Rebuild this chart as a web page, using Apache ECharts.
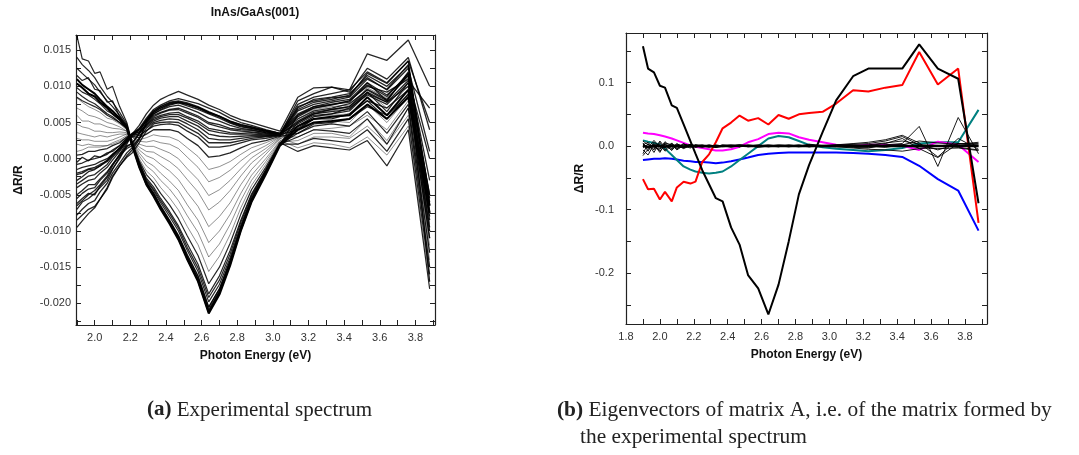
<!DOCTYPE html>
<html><head><meta charset="utf-8">
<script src="https://cdn.jsdelivr.net/npm/echarts@6/dist/echarts.min.js"></script>
<style>html,body{margin:0;padding:0;background:#fff;}#chart{width:1079px;height:455px;}</style>
</head><body><div id="chart"></div>
<script>
// Photon energy grid (eV)
const photonEnergy = [1.90,1.93,1.965,2.00,2.03,2.07,2.10,2.14,2.18,2.21,2.25,2.29,2.33,2.37,2.42,2.47,2.52,2.58,2.64,2.70,2.76,2.82,2.88,2.96,3.04,3.14,3.23,3.33,3.43,3.53,3.64,3.76,3.88];

// (a) experimental spectra, dR/R
const spec01 = [-0.0040,-0.0035,-0.0030,-0.0028,-0.0020,-0.0012,-0.0002,0.0010,0.0024,0.0034,0.0042,0.0056,0.0068,0.0074,0.0080,0.0083,0.0080,0.0076,0.0070,0.0064,0.0056,0.0050,0.0046,0.0040,0.0035,0.0062,0.0072,0.0078,0.0082,0.0105,0.0088,0.0115,-0.0050];
const spec02 = [-0.0062,-0.0055,-0.0048,-0.0050,-0.0038,-0.0026,-0.0014,0.0000,0.0018,0.0020,0.0036,0.0054,0.0066,0.0072,0.0078,0.0080,0.0077,0.0072,0.0065,0.0059,0.0052,0.0047,0.0044,0.0039,0.0035,0.0055,0.0066,0.0070,0.0076,0.0095,0.0080,0.0120,-0.0065];
const spec03 = [-0.0022,-0.0020,-0.0015,-0.0014,-0.0010,-0.0004,0.0004,0.0014,0.0026,0.0034,0.0040,0.0052,0.0062,0.0067,0.0072,0.0074,0.0070,0.0064,0.0056,0.0052,0.0046,0.0042,0.0040,0.0036,0.0034,0.0070,0.0082,0.0085,0.0090,0.0112,0.0095,0.0125,0.0010];
const spec04 = [-0.0078,-0.0070,-0.0062,-0.0058,-0.0046,-0.0034,-0.0020,-0.0006,0.0008,0.0015,0.0028,0.0048,0.0058,0.0063,0.0067,0.0068,0.0063,0.0057,0.0048,0.0044,0.0040,0.0038,0.0037,0.0035,0.0034,0.0048,0.0060,0.0062,0.0070,0.0088,0.0075,0.0105,-0.0080];
const spec05 = [-0.0008,-0.0006,-0.0002,0.0000,0.0002,0.0006,0.0012,0.0018,0.0028,0.0034,0.0037,0.0046,0.0054,0.0058,0.0061,0.0061,0.0056,0.0049,0.0039,0.0036,0.0034,0.0034,0.0034,0.0033,0.0033,0.0080,0.0090,0.0099,0.0092,0.0125,0.0110,0.0140,0.0040];
const spec06 = [-0.0050,-0.0044,-0.0036,-0.0036,-0.0028,-0.0018,-0.0008,0.0004,0.0014,0.0018,0.0028,0.0042,0.0050,0.0053,0.0055,0.0054,0.0048,0.0040,0.0028,0.0026,0.0026,0.0028,0.0030,0.0031,0.0033,0.0040,0.0055,0.0055,0.0062,0.0080,0.0070,0.0095,-0.0100];
const spec07 = [0.0005,0.0006,0.0010,0.0010,0.0012,0.0014,0.0018,0.0022,0.0030,0.0034,0.0032,0.0039,0.0045,0.0047,0.0048,0.0046,0.0038,0.0030,0.0016,0.0016,0.0018,0.0022,0.0026,0.0028,0.0032,0.0066,0.0075,0.0080,0.0085,0.0110,0.0096,0.0130,-0.0055];
const spec08 = [-0.0030,-0.0025,-0.0018,-0.0015,-0.0010,-0.0002,0.0006,0.0014,0.0026,0.0031,0.0029,0.0034,0.0040,0.0040,0.0040,0.0037,0.0028,0.0018,0.0002,0.0004,0.0008,0.0015,0.0021,0.0025,0.0031,0.0035,0.0048,0.0050,0.0055,0.0072,0.0060,0.0088,-0.0110];
const spec09 = [0.0010,0.0012,0.0016,0.0016,0.0016,0.0018,0.0020,0.0024,0.0030,0.0030,0.0026,0.0029,0.0033,0.0031,0.0030,0.0025,0.0015,0.0003,-0.0015,-0.0011,-0.0004,0.0006,0.0015,0.0022,0.0030,0.0058,0.0068,0.0072,0.0074,0.0098,0.0084,0.0112,-0.0070];
const spec10 = [0.0020,0.0018,0.0020,0.0018,0.0018,0.0018,0.0022,0.0026,0.0032,0.0030,0.0024,0.0023,0.0025,0.0022,0.0020,0.0014,0.0002,-0.0012,-0.0032,-0.0026,-0.0016,-0.0003,0.0008,0.0018,0.0030,0.0030,0.0040,0.0042,0.0045,0.0060,0.0040,0.0080,-0.0130];
const spec11 = [0.0028,0.0026,0.0026,0.0024,0.0024,0.0024,0.0026,0.0030,0.0034,0.0030,0.0020,0.0017,0.0017,0.0013,0.0008,0.0000,-0.0014,-0.0029,-0.0051,-0.0043,-0.0030,-0.0014,0.0001,0.0014,0.0029,0.0052,0.0062,0.0066,0.0070,0.0092,0.0070,0.0100,-0.0090];
const spec12 = [0.0036,0.0034,0.0032,0.0030,0.0032,0.0030,0.0032,0.0034,0.0034,0.0027,0.0016,0.0010,0.0009,0.0003,-0.0004,-0.0014,-0.0029,-0.0046,-0.0071,-0.0060,-0.0044,-0.0024,-0.0006,0.0010,0.0028,0.0020,0.0030,0.0030,0.0028,0.0045,0.0020,0.0060,-0.0150];
const spec13 = [0.0048,0.0044,0.0042,0.0038,0.0038,0.0036,0.0036,0.0037,0.0036,0.0026,0.0012,0.0004,0.0000,-0.0008,-0.0017,-0.0029,-0.0047,-0.0066,-0.0094,-0.0080,-0.0061,-0.0036,-0.0015,0.0006,0.0027,0.0045,0.0058,0.0060,0.0062,0.0085,0.0060,0.0095,-0.0100];
const spec14 = [0.0060,0.0052,0.0052,0.0048,0.0048,0.0044,0.0042,0.0041,0.0038,0.0024,0.0008,-0.0004,-0.0010,-0.0020,-0.0031,-0.0044,-0.0064,-0.0085,-0.0116,-0.0100,-0.0077,-0.0048,-0.0023,0.0000,0.0025,0.0015,0.0022,0.0020,0.0015,0.0030,0.0005,0.0045,-0.0170];
const spec15 = [0.0070,0.0066,0.0060,0.0058,0.0055,0.0050,0.0048,0.0044,0.0038,0.0024,0.0004,-0.0010,-0.0018,-0.0030,-0.0042,-0.0058,-0.0079,-0.0102,-0.0136,-0.0118,-0.0091,-0.0058,-0.0030,-0.0004,0.0024,0.0038,0.0050,0.0052,0.0050,0.0075,0.0050,0.0085,-0.0120];
const spec16 = [0.0084,0.0078,0.0072,0.0068,0.0064,0.0056,0.0054,0.0048,0.0040,0.0023,0.0000,-0.0017,-0.0026,-0.0040,-0.0054,-0.0071,-0.0094,-0.0119,-0.0156,-0.0135,-0.0105,-0.0068,-0.0037,-0.0008,0.0023,0.0025,0.0035,0.0035,0.0030,0.0055,0.0025,0.0070,-0.0140];
const spec17 = [0.0092,0.0086,0.0080,0.0076,0.0070,0.0062,0.0058,0.0050,0.0042,0.0022,-0.0003,-0.0022,-0.0033,-0.0048,-0.0064,-0.0083,-0.0107,-0.0134,-0.0173,-0.0150,-0.0117,-0.0077,-0.0043,-0.0012,0.0022,0.0010,0.0018,0.0015,0.0012,0.0025,-0.0010,0.0040,-0.0180];
const spec18 = [0.0125,0.0118,0.0110,0.0102,0.0092,0.0080,0.0072,0.0060,0.0046,0.0021,-0.0005,-0.0027,-0.0039,-0.0055,-0.0073,-0.0093,-0.0118,-0.0146,-0.0187,-0.0162,-0.0127,-0.0085,-0.0049,-0.0015,0.0021,0.0042,0.0055,0.0058,0.0060,0.0080,0.0055,0.0090,-0.0110];
const spec19 = [0.0098,0.0092,0.0088,0.0082,0.0076,0.0066,0.0062,0.0054,0.0044,0.0020,-0.0007,-0.0031,-0.0044,-0.0061,-0.0080,-0.0100,-0.0127,-0.0156,-0.0198,-0.0174,-0.0137,-0.0092,-0.0053,-0.0017,0.0020,0.0020,0.0028,0.0025,0.0022,0.0040,0.0010,0.0055,-0.0160];
const spec20 = [0.0140,0.0130,0.0122,0.0112,0.0100,0.0086,0.0078,0.0064,0.0048,0.0021,-0.0009,-0.0034,-0.0048,-0.0066,-0.0086,-0.0107,-0.0134,-0.0163,-0.0206,-0.0180,-0.0141,-0.0096,-0.0056,-0.0019,0.0020,0.0035,0.0045,0.0048,0.0045,0.0065,0.0035,0.0075,-0.0130];
const spec21 = [0.0110,0.0102,0.0096,0.0090,0.0082,0.0072,0.0066,0.0056,0.0044,0.0020,-0.0010,-0.0035,-0.0050,-0.0068,-0.0088,-0.0110,-0.0138,-0.0168,-0.0212,-0.0185,-0.0145,-0.0098,-0.0058,-0.0020,0.0020,0.0045,0.0055,0.0058,0.0060,0.0085,0.0060,0.0095,-0.0065];
const spec22 = [0.0104,0.0098,0.0090,0.0086,0.0078,0.0070,0.0062,0.0054,0.0042,0.0018,-0.0012,-0.0036,-0.0052,-0.0070,-0.0090,-0.0112,-0.0140,-0.0170,-0.0214,-0.0188,-0.0148,-0.0100,-0.0060,-0.0022,0.0018,0.0040,0.0050,0.0052,0.0055,0.0075,0.0055,0.0085,-0.0075];
const spec23 = [0.0170,0.0138,0.0135,0.0118,0.0120,0.0096,0.0100,0.0072,0.0050,0.0022,-0.0008,-0.0033,-0.0049,-0.0067,-0.0087,-0.0108,-0.0136,-0.0166,-0.0209,-0.0183,-0.0143,-0.0097,-0.0057,-0.0019,0.0020,0.0030,0.0040,0.0038,0.0035,0.0055,0.0020,0.0070,-0.0150];
const spec24 = [-0.0070,-0.0060,-0.0055,-0.0048,-0.0040,-0.0030,-0.0015,0.0002,0.0020,0.0034,0.0046,0.0062,0.0074,0.0082,0.0088,0.0093,0.0088,0.0082,0.0074,0.0068,0.0060,0.0054,0.0050,0.0044,0.0038,0.0085,0.0098,0.0099,0.0095,0.0145,0.0136,0.0164,0.0100];
const spec25 = [-0.0055,-0.0048,-0.0042,-0.0040,-0.0030,-0.0020,-0.0008,0.0006,0.0022,0.0032,0.0040,0.0052,0.0064,0.0070,0.0076,0.0078,0.0075,0.0071,0.0064,0.0058,0.0050,0.0045,0.0042,0.0038,0.0034,0.0058,0.0070,0.0075,0.0080,0.0100,0.0092,0.0110,0.0000];
const spec26 = [-0.0085,-0.0078,-0.0070,-0.0066,-0.0056,-0.0042,-0.0026,-0.0010,0.0004,0.0012,0.0026,0.0050,0.0062,0.0068,0.0074,0.0077,0.0073,0.0068,0.0062,0.0056,0.0049,0.0044,0.0042,0.0037,0.0034,0.0068,0.0078,0.0082,0.0088,0.0115,0.0100,0.0128,-0.0060];
const spec27 = [-0.0015,-0.0012,-0.0010,-0.0008,-0.0004,0.0000,0.0006,0.0014,0.0025,0.0033,0.0040,0.0053,0.0064,0.0070,0.0075,0.0078,0.0075,0.0070,0.0063,0.0058,0.0051,0.0046,0.0043,0.0038,0.0034,0.0050,0.0062,0.0068,0.0072,0.0092,0.0078,0.0108,0.0070];
const spec28 = [-0.0035,-0.0030,-0.0024,-0.0022,-0.0016,-0.0008,0.0002,0.0012,0.0024,0.0031,0.0035,0.0044,0.0052,0.0056,0.0058,0.0058,0.0052,0.0045,0.0034,0.0031,0.0030,0.0031,0.0032,0.0032,0.0033,0.0072,0.0080,0.0084,0.0086,0.0118,0.0104,0.0135,-0.0075];
const spec29 = [-0.0065,-0.0058,-0.0050,-0.0044,-0.0036,-0.0024,-0.0010,0.0006,0.0016,0.0022,0.0034,0.0050,0.0060,0.0064,0.0068,0.0070,0.0065,0.0059,0.0050,0.0047,0.0042,0.0040,0.0039,0.0036,0.0034,0.0060,0.0070,0.0074,0.0080,0.0102,0.0086,0.0118,-0.0030];
const spec30 = [-0.0020,-0.0018,-0.0014,-0.0012,-0.0008,-0.0003,0.0005,0.0015,0.0026,0.0033,0.0037,0.0047,0.0056,0.0060,0.0063,0.0064,0.0058,0.0052,0.0042,0.0039,0.0036,0.0035,0.0036,0.0034,0.0033,0.0052,0.0064,0.0068,0.0072,0.0096,0.0082,0.0115,-0.0085];
const spec31 = [-0.0095,-0.0086,-0.0076,-0.0068,-0.0056,-0.0040,-0.0024,-0.0010,0.0002,0.0008,0.0022,0.0038,0.0048,0.0050,0.0051,0.0050,0.0043,0.0035,0.0022,0.0022,0.0022,0.0025,0.0028,0.0030,0.0032,0.0045,0.0058,0.0062,0.0066,0.0090,0.0078,0.0100,-0.0095];
const spec32 = [-0.0005,0.0002,-0.0003,0.0004,0.0002,0.0008,0.0010,0.0018,0.0028,0.0035,0.0041,0.0054,0.0066,0.0072,0.0077,0.0079,0.0076,0.0071,0.0064,0.0059,0.0052,0.0047,0.0044,0.0039,0.0035,0.0075,0.0085,0.0090,0.0095,0.0120,0.0105,0.0135,0.0050];
const spec33 = [0.0115,0.0108,0.0112,0.0096,0.0094,0.0078,0.0080,0.0058,0.0045,0.0020,-0.0006,-0.0029,-0.0042,-0.0058,-0.0076,-0.0096,-0.0123,-0.0151,-0.0192,-0.0168,-0.0132,-0.0088,-0.0051,-0.0016,0.0020,0.0050,0.0062,0.0065,0.0068,0.0092,0.0065,0.0105,-0.0050];
const spec34 = [0.0085,0.0080,0.0076,0.0072,0.0068,0.0060,0.0056,0.0050,0.0042,0.0019,-0.0009,-0.0033,-0.0047,-0.0065,-0.0085,-0.0106,-0.0133,-0.0162,-0.0205,-0.0180,-0.0141,-0.0095,-0.0056,-0.0019,0.0019,0.0060,0.0072,0.0075,0.0078,0.0105,0.0080,0.0118,-0.0170];

// (b) eigenvectors
const evBlack   = [0.157,0.122,0.116,0.095,0.092,0.064,0.060,0.034,0.008,-0.012,-0.038,-0.060,-0.082,-0.087,-0.128,-0.155,-0.203,-0.224,-0.265,-0.218,-0.150,-0.076,-0.030,0.022,0.072,0.110,0.122,0.122,0.122,0.160,0.122,0.106,-0.090];
const evRed     = [-0.052,-0.068,-0.067,-0.084,-0.072,-0.087,-0.065,-0.056,-0.059,-0.056,-0.025,-0.013,0.006,0.028,0.037,0.048,0.040,0.044,0.034,0.049,0.043,0.050,0.052,0.054,0.067,0.088,0.086,0.092,0.096,0.148,0.097,0.122,-0.121];
const evMagenta = [0.021,0.020,0.019,0.017,0.015,0.012,0.009,0.005,0.001,-0.001,-0.003,-0.005,-0.007,-0.007,-0.005,-0.001,0.006,0.011,0.019,0.021,0.020,0.014,0.010,0.006,0.002,0.000,0.002,0.002,0.001,-0.006,0.007,0.002,-0.025];
const evTeal    = [0.009,0.007,0.005,0.002,-0.004,-0.014,-0.022,-0.032,-0.037,-0.040,-0.042,-0.043,-0.042,-0.040,-0.032,-0.022,-0.012,0.000,0.012,0.016,0.014,0.008,0.002,-0.002,-0.004,-0.006,-0.008,-0.006,-0.003,0.004,0.006,0.006,0.057];
const evBlue    = [-0.022,-0.021,-0.020,-0.020,-0.019,-0.020,-0.021,-0.023,-0.024,-0.025,-0.025,-0.026,-0.027,-0.026,-0.024,-0.021,-0.018,-0.014,-0.012,-0.011,-0.010,-0.010,-0.010,-0.010,-0.010,-0.011,-0.012,-0.014,-0.017,-0.031,-0.052,-0.070,-0.133];
const evNoise1 = [0.005,-0.008,0.006,-0.004,0.007,-0.003,0.004,-0.002,0.003,0.000,0.002,-0.001,0.002,0.000,0.001,-0.001,0.002,0.000,0.001,-0.001,0.002,0.000,0.003,0.001,0.002,0.004,0.006,0.010,0.017,0.005,-0.017,0.012,-0.005];
const evNoise2 = [-0.012,0.004,-0.010,0.006,-0.006,0.005,-0.004,0.003,-0.002,0.002,-0.001,0.002,0.000,0.001,-0.002,0.001,0.000,0.002,-0.001,0.001,0.000,0.002,-0.001,0.001,0.000,-0.002,-0.003,0.002,0.004,0.031,-0.032,0.045,-0.012];
const evNoise3 = [0.008,0.002,-0.006,0.008,-0.002,0.004,-0.005,0.003,0.000,-0.002,0.001,0.000,-0.001,0.002,0.000,0.001,-0.001,0.000,0.002,0.000,-0.001,0.001,0.000,-0.001,0.002,0.000,0.002,0.005,0.008,0.003,-0.006,0.004,0.004];
const evNoise4 = [-0.006,-0.014,0.003,-0.008,0.002,-0.006,0.002,-0.004,0.001,0.000,-0.002,0.001,-0.001,0.000,0.001,-0.001,0.001,-0.002,0.000,0.001,-0.001,0.000,0.001,0.000,-0.001,-0.003,-0.005,-0.006,-0.008,-0.004,0.000,0.004,0.000];
const evNoise5 = [0.002,0.006,-0.004,0.002,-0.008,0.001,-0.002,0.004,-0.001,0.001,0.000,-0.002,0.001,0.000,0.000,0.002,-0.001,0.001,0.000,-0.001,0.001,0.000,-0.001,0.001,0.001,0.002,0.001,0.004,0.012,-0.004,-0.018,0.004,0.002];
const evNoise6 = [-0.015,-0.005,0.002,-0.010,0.004,-0.004,0.000,-0.003,0.002,-0.001,0.000,0.001,-0.002,0.001,0.000,-0.001,0.000,0.001,0.001,0.000,0.000,-0.001,0.000,0.000,0.000,0.001,0.000,-0.002,0.002,0.008,0.005,0.003,0.006];
const evNoise7 = [0.004,-0.003,0.009,-0.002,0.003,-0.007,0.003,0.000,-0.003,0.002,0.001,-0.001,0.000,0.001,0.002,0.000,0.001,-0.001,0.000,0.002,0.001,-0.001,0.002,0.000,0.001,0.003,0.004,0.008,0.015,0.002,0.001,-0.002,-0.006];
const evNoise8 = [-0.003,0.003,-0.002,-0.005,0.005,0.002,-0.006,0.001,0.002,-0.001,0.000,0.000,0.001,-0.001,0.000,0.000,0.000,0.000,-0.001,0.000,0.001,0.001,-0.001,0.000,-0.001,-0.001,-0.002,0.001,0.003,-0.003,-0.004,-0.003,-0.007];
const evZero   = [0.001,-0.002,0.001,0.000,-0.001,0.001,0.000,-0.001,0.001,0.000,0.000,0.000,-0.001,0.000,0.000,0.001,0.000,0.000,0.000,0.000,0.000,0.000,0.000,0.000,0.000,0.000,0.000,0.000,0.000,0.000,0.000,0.000,0.000];

// tick labels / tick positions
const leftXLabels  = [2.0,2.2,2.4,2.6,2.8,3.0,3.2,3.4,3.6,3.8];
const leftXMinor   = [1.9,2.1,2.3,2.5,2.7,2.9,3.1,3.3,3.5,3.7,3.9];
const leftYLabels  = [-0.020,-0.015,-0.010,-0.005,0.000,0.005,0.010,0.015];
const leftYMinor   = [-0.0225,-0.0175,-0.0125,-0.0075,-0.0025,0.0025,0.0075,0.0125];
const rightXLabels = [1.8,2.0,2.2,2.4,2.6,2.8,3.0,3.2,3.4,3.6,3.8];
const rightXMinor  = [1.9,2.1,2.3,2.5,2.7,2.9,3.1,3.3,3.5,3.7,3.9];
const rightYLabels = [-0.2,-0.1,0.0,0.1];
const rightYMinor  = [-0.25,-0.15,-0.05,0.05,0.15];

// line groups for the experimental spectra (styling only)
const bandLines   = [spec01,spec02,spec03,spec04,spec05,spec06,spec07,spec08,spec24,spec25,spec26,spec27,spec28,spec29,spec30,spec31,spec32];
const middleLines = [spec09,spec10,spec11,spec12,spec13,spec14,spec15,spec16];
const deepLines   = [spec17,spec18,spec19,spec20,spec23,spec33,spec34];
const edgeLines   = [spec21,spec22];

const SANS = '"Liberation Sans", Arial, sans-serif';
const SERIF = '"Liberation Serif", "Times New Roman", serif';
const frame = {color:'#222', width:1.2};
const pts = arr => photonEnergy.map((e,i)=>[e, arr[i]]);

function xAxisDef(grid, min, max, pos, labels, minor, showLabel, name){
  return {
    gridIndex:grid, type:'value', min:min, max:max, position:pos,
    axisLine:{show:true, onZero:false, lineStyle:frame},
    axisTick:{show:true, inside:true, length:5, customValues:labels.concat(minor), lineStyle:{color:'#222', width:1}},
    axisLabel:{show:showLabel, customValues:labels, formatter:v=>v.toFixed(1), margin:7, fontFamily:SANS, fontSize:11, color:'#333'},
    splitLine:{show:false},
    name: name||'', nameLocation:'middle', nameGap:25,
    nameTextStyle:{fontFamily:SANS, fontSize:12, fontWeight:'bold', color:'#111'}
  };
}
function yAxisDef(grid, min, max, pos, labels, minor, showLabel, digits, margin, name, gap){
  return {
    gridIndex:grid, type:'value', min:min, max:max, position:pos,
    axisLine:{show:true, onZero:false, lineStyle:frame},
    axisTick:{show:true, inside:true, length:5, customValues:labels.concat(minor), lineStyle:{color:'#222', width:1}},
    axisLabel:{show:showLabel, customValues:labels, formatter:v=>v.toFixed(digits), margin:margin, fontFamily:SANS, fontSize:11, color:'#333'},
    splitLine:{show:false},
    name: name||'', nameLocation:'middle', nameGap:gap||0,
    nameTextStyle:{fontFamily:SANS, fontSize:12, fontWeight:'bold', color:'#111'}
  };
}

const series = [];
function addSpectra(list, width, opacity){
  list.forEach(s => series.push({type:'line', xAxisIndex:0, yAxisIndex:0, data:pts(s), showSymbol:false, silent:true,
    lineStyle:{color:'#000', width:width, opacity:opacity}}));
}
addSpectra(middleLines, 0.8, 0.55);
addSpectra(bandLines, 1.3, 0.85);
addSpectra(deepLines, 1.2, 0.85);
addSpectra(edgeLines, 2, 1);

const evLines = [
  [evBlue,'#0000ff',2],[evTeal,'#008080',2],[evMagenta,'#ff00ff',2],[evRed,'#ff0000',2],
  [evNoise1,'#000',0.9],[evNoise2,'#000',0.9],[evNoise3,'#000',0.9],[evNoise4,'#000',0.9],
  [evNoise5,'#000',0.9],[evNoise6,'#000',0.9],[evNoise7,'#000',0.9],[evNoise8,'#000',0.9],
  [evZero,'#000',2.5],[evBlack,'#000',2]
];
evLines.forEach(([arr,c,w]) => series.push({type:'line', xAxisIndex:2, yAxisIndex:2, data:pts(arr), showSymbol:false, silent:true, lineStyle:{color:c, width:w}}));

const option = {
  animation:false,
  backgroundColor:'#fff',
  grid:[
    {left:76, top:35, width:359, height:290},
    {left:626, top:33, width:361, height:291}
  ],
  xAxis:[
    xAxisDef(0, 1.895, 3.91, 'bottom', leftXLabels, leftXMinor, true, 'Photon Energy (eV)'),
    xAxisDef(0, 1.895, 3.91, 'top', leftXLabels, leftXMinor, false),
    xAxisDef(1, 1.8, 3.93, 'bottom', rightXLabels, rightXMinor, true, 'Photon Energy (eV)'),
    xAxisDef(1, 1.8, 3.93, 'top', rightXLabels, rightXMinor, false)
  ],
  yAxis:[
    yAxisDef(0, -0.023, 0.0171, 'left', leftYLabels, leftYMinor, true, 3, 5, 'ΔR/R', 51),
    yAxisDef(0, -0.023, 0.0171, 'right', leftYLabels, leftYMinor, false, 3, 5),
    yAxisDef(1, -0.28, 0.178, 'left', rightYLabels, rightYMinor, true, 1, 12, 'ΔR/R', 40),
    yAxisDef(1, -0.28, 0.178, 'right', rightYLabels, rightYMinor, false, 1, 5)
  ],
  series: series,
  graphic:[
    {type:'text', x:255, y:13, style:{text:'InAs/GaAs(001)', fontFamily:SANS, fontSize:12, fontWeight:'bold', fill:'#111', align:'center', verticalAlign:'middle'}},
    {type:'text', x:147, y:410, style:{text:'{b|(a)} Experimental spectrum', fontFamily:SERIF, fontSize:21, fill:'#222', verticalAlign:'middle',
      rich:{b:{fontFamily:SERIF, fontSize:21, fontWeight:'bold', fill:'#222'}}}},
    {type:'text', x:557, y:410, style:{text:'{b|(b)} Eigenvectors of matrix A, i.e. of the matrix formed by', fontFamily:SERIF, fontSize:21.4, fill:'#222', verticalAlign:'middle',
      rich:{b:{fontFamily:SERIF, fontSize:21.4, fontWeight:'bold', fill:'#222'}}}},
    {type:'text', x:580, y:437, style:{text:'the experimental spectrum', fontFamily:SERIF, fontSize:21.4, fill:'#222', verticalAlign:'middle'}}
  ]
};
const chart = echarts.init(document.getElementById('chart'), null, {renderer:'canvas'});
chart.setOption(option);
</script></body></html>
